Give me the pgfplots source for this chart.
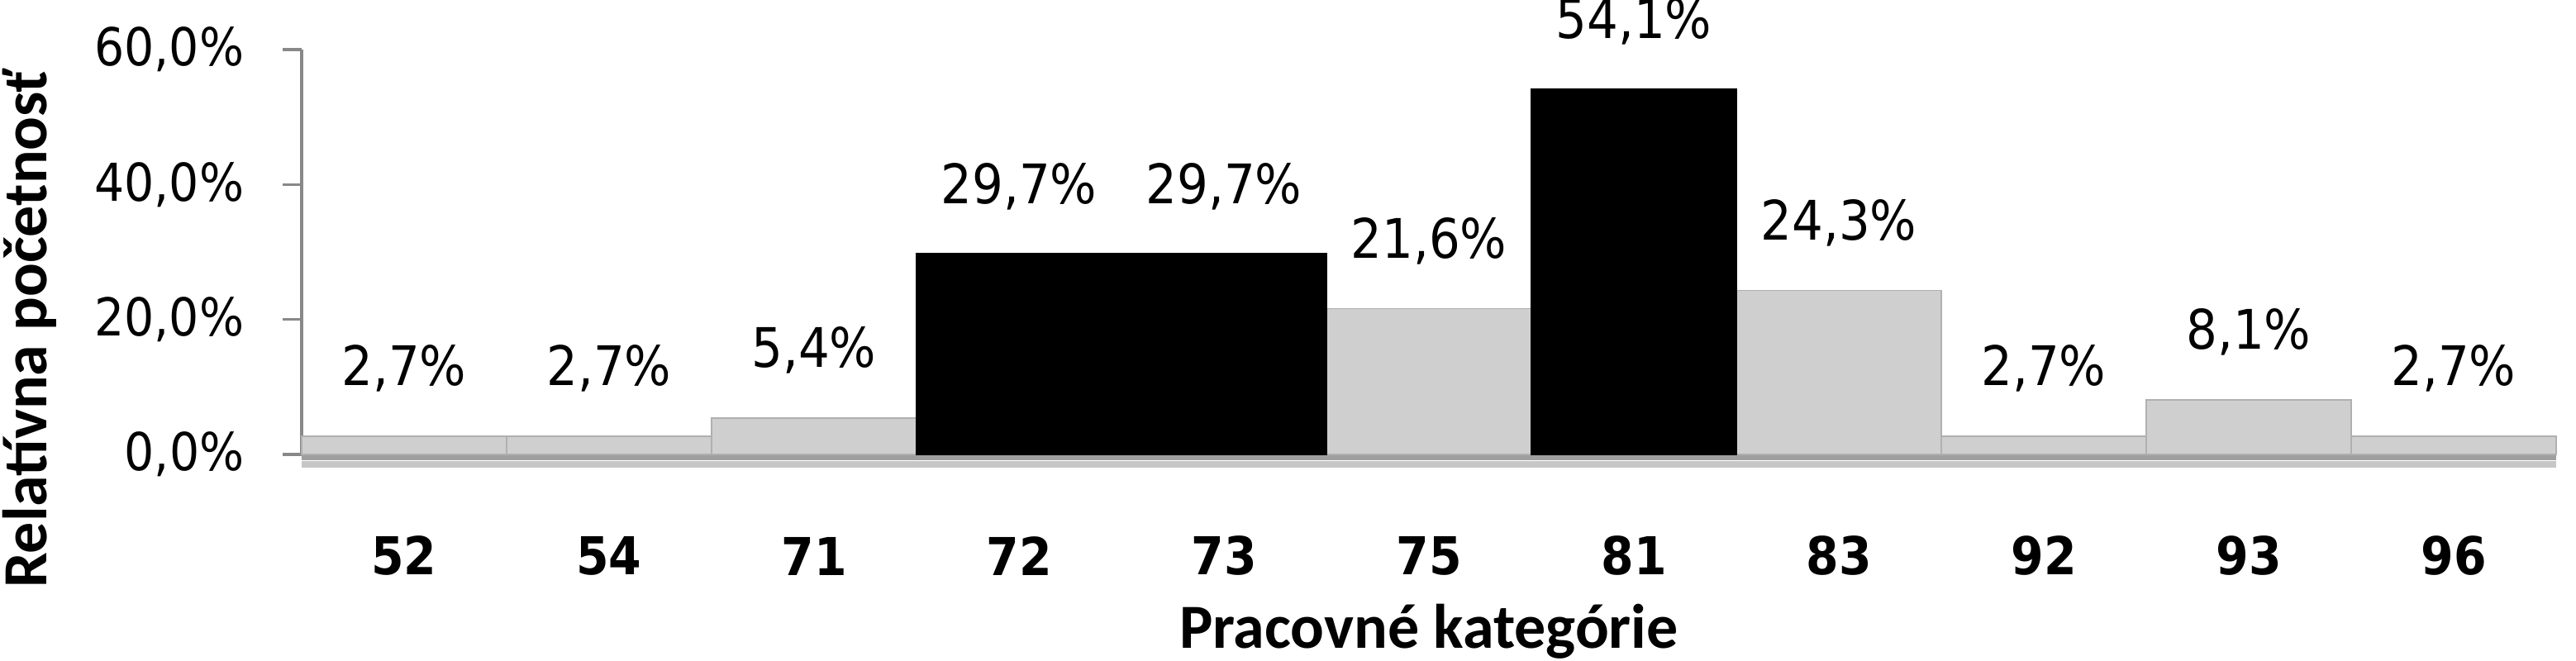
\documentclass[border=0pt]{standalone}
\usepackage{fontspec}
\usepackage{pgfplots}
\pgfplotsset{compat=1.18}
\newfontfamily\tickfont{DejaVu Sans Condensed}
\newfontfamily\labfont{Carlito}
\definecolor{barg}{HTML}{CFCFCF}
\definecolor{axg}{HTML}{888888}
\begin{document}
\begin{tikzpicture}
\begin{axis}[
  scale only axis, width=682pt, height=122.5pt,
  xmin=-0.5, xmax=10.5, ymin=0, ymax=60,
  ybar, bar width=1, bar shift=0pt,
  axis lines*=left,
  x axis line style={draw=none},
  y axis line style={draw=axg, line width=0.8pt},
  ytick={0,20,40,60},
  ytick style={draw=axg, line width=0.8pt},
  tick align=outside, major tick length=5.75pt,
  xtick={0,...,10},
  xticklabels={52,54,71,72,73,75,81,83,92,93,96},
  x tick style={draw=none},
  /pgf/number format/assume math mode=true,
  yticklabel={\pgfmathprintnumber[fixed,fixed zerofill,precision=1,use comma]{\tick}\%},
  yticklabel style={font=\tickfont\fontsize{15.8}{18}\selectfont, anchor=east, inner sep=0pt, xshift=-11.5pt},
  xticklabel style={font=\tickfont\bfseries\fontsize{15.8}{18}\selectfont, anchor=center, yshift=-25pt},
  ylabel={Relatívna početnosť},
  ylabel style={font=\labfont\bfseries\fontsize{19}{22}\selectfont, at={(axis description cs:-0.1206,0.31)}, anchor=center, rotate=0},
  xlabel={Pracovné kategórie},
  xlabel style={font=\labfont\bfseries\fontsize{19}{22}\selectfont, at={(axis description cs:0.5,0)}, anchor=center, yshift=-53.5pt},
  nodes near coords={\pgfmathprintnumber[fixed,fixed zerofill,precision=1,use comma]{\pgfplotspointmeta}\%},
  every node near coord/.append style={font=\tickfont\fontsize{16.5}{18}\selectfont, anchor=center, yshift=20.5pt, text=black},
  clip=false,
]
\addplot[fill=barg, draw=barg!85!black, line width=0.4pt] coordinates {(0,2.7) (1,2.7) (2,5.4) (5,21.6) (7,24.3) (8,2.7) (9,8.1) (10,2.7)};
\addplot[fill=black, draw=black, line width=0.6pt] coordinates {(3,29.7) (4,29.7) (6,54.1)};
\draw[gray!45, line width=2pt] ([yshift=-3pt]axis cs:-0.5,0) -- ([yshift=-3pt]axis cs:10.5,0);
\draw[gray!75, line width=1.6pt] ([yshift=-1pt]axis cs:-0.5,0) -- ([yshift=-1pt]axis cs:10.5,0);
\coordinate (O) at (axis cs:-0.5,0);
\end{axis}
\pgfresetboundingbox
\path[use as bounding box] ([shift={(-91.25pt,-62.5pt)}]O) rectangle ([shift={(688pt,137.5pt)}]O);
\end{tikzpicture}
\end{document}
